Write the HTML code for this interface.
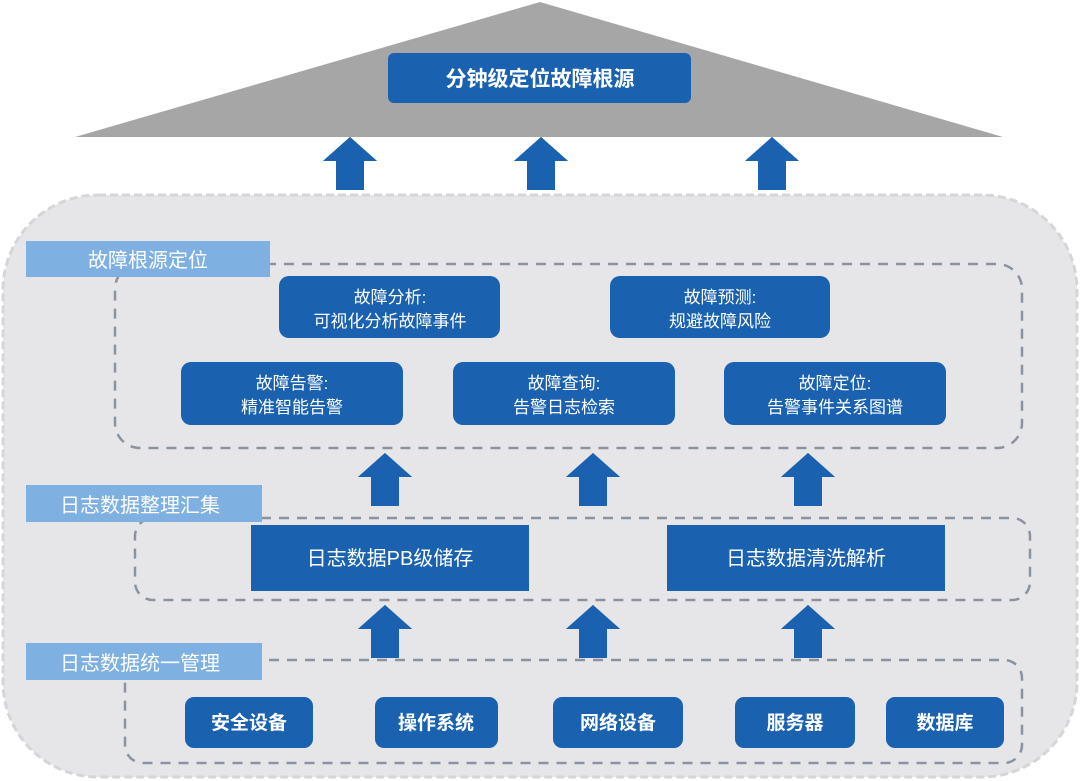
<!DOCTYPE html>
<html><head><meta charset="utf-8"><style>
html,body{margin:0;padding:0;background:#fff}
svg{display:block}
text{font-family:"Liberation Sans","Noto Sans CJK SC",sans-serif;fill:#fff}
</style></head><body>
<svg width="1080" height="781" viewBox="0 0 1080 781" xmlns="http://www.w3.org/2000/svg">
<defs>
<g id="arr"><polygon points="-27,0 27,0 0,-24" transform="translate(0,24)"/><polygon points="0,0 -27,24 27,24"/><rect x="-14" y="23" width="28" height="30"/></g>
</defs>
<!-- triangle -->
<polygon points="540,2 1003,137 75,137" fill="#a6a6a6"/>
<rect x="388" y="53" width="303" height="50" rx="6" fill="#1a62b0"/>
<text x="540" y="86" font-size="21" font-weight="bold" text-anchor="middle">分钟级定位故障根源</text>
<!-- top arrows -->
<g fill="#1a62b0">
<use href="#arr" x="350" y="137"/><use href="#arr" x="541" y="137"/><use href="#arr" x="772" y="137"/>
</g>
<!-- big panel -->
<rect x="3" y="195" width="1074" height="582" rx="95" fill="#e6e6e8" stroke="#d6d6d8" stroke-width="3" stroke-dasharray="8,4"/>
<!-- dashed groups -->
<g fill="none" stroke="#8c93a0" stroke-width="2.5" stroke-dasharray="10,8">
<rect x="115" y="264" width="907" height="184" rx="25"/>
<rect x="135" y="518" width="895" height="82" rx="18"/>
<rect x="125" y="660" width="897" height="103" rx="18"/>
</g>
<!-- labels -->
<g fill="#7eb0e2">
<rect x="26" y="241" width="244" height="36"/>
<rect x="26" y="485" width="236" height="37"/>
<rect x="26" y="643" width="236" height="37"/>
</g>
<g font-size="20">
<text x="148" y="267" text-anchor="middle">故障根源定位</text>
<text x="140" y="512" text-anchor="middle">日志数据整理汇集</text>
<text x="140" y="670" text-anchor="middle">日志数据统一管理</text>
</g>
<!-- nodes -->
<g fill="#1a62b0">
<rect x="279" y="276" width="221" height="62" rx="10"/>
<rect x="610" y="276" width="220" height="62" rx="10"/>
<rect x="181" y="362" width="222" height="63" rx="10"/>
<rect x="453" y="362" width="222" height="63" rx="10"/>
<rect x="724" y="362" width="222" height="63" rx="10"/>
<rect x="251" y="525" width="278" height="66"/>
<rect x="667" y="525" width="278" height="66"/>
<rect x="185" y="697" width="128" height="51" rx="9"/>
<rect x="375" y="697" width="123" height="51" rx="9"/>
<rect x="553" y="697" width="130" height="51" rx="9"/>
<rect x="735" y="697" width="120" height="51" rx="9"/>
<rect x="886" y="697" width="118" height="51" rx="9"/>
</g>
<g font-size="17" text-anchor="middle">
<text x="390" y="303">故障分析:</text><text x="390" y="327">可视化分析故障事件</text>
<text x="720" y="303">故障预测:</text><text x="720" y="327">规避故障风险</text>
<text x="292" y="389">故障告警:</text><text x="292" y="413">精准智能告警</text>
<text x="564" y="389">故障查询:</text><text x="564" y="413">告警日志检索</text>
<text x="835" y="389">故障定位:</text><text x="835" y="413">告警事件关系图谱</text>
</g>
<g font-size="20" text-anchor="middle">
<text x="390" y="565">日志数据PB级储存</text>
<text x="806" y="565">日志数据清洗解析</text>
</g>
<g font-size="19" font-weight="bold" text-anchor="middle">
<text x="249" y="729">安全设备</text>
<text x="436" y="729">操作系统</text>
<text x="618" y="729">网络设备</text>
<text x="795" y="729">服务器</text>
<text x="945" y="729">数据库</text>
</g>
<!-- arrows -->
<g fill="#1a62b0">
<use href="#arr" x="385" y="453"/><use href="#arr" x="593" y="453"/><use href="#arr" x="808" y="453"/>
<use href="#arr" x="385" y="605"/><use href="#arr" x="593" y="605"/><use href="#arr" x="808" y="605"/>
</g>
</svg>
</body></html>
